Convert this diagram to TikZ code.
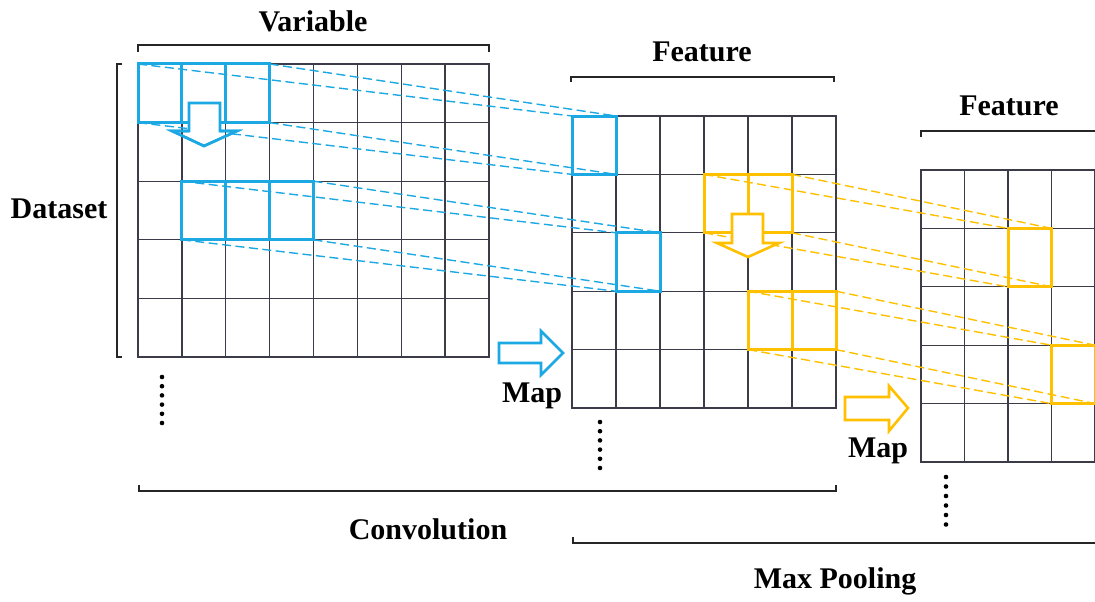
\documentclass[tikz,border=0pt]{standalone}
\usepackage{fontspec}
\setmainfont{Liberation Serif}
\definecolor{cblue}{RGB}{28,168,227}
\definecolor{cyel}{RGB}{255,192,0}
\definecolor{cgrid}{RGB}{60,60,72}
\begin{document}
\begin{tikzpicture}[x=1pt,y=-1pt,
  gridline/.style={cgrid,line width=1.3pt,line cap=rect},
  brk/.style={black!85,line width=1.2pt},
  lbl/.style={font=\fontsize{30}{36}\selectfont\bfseries,inner sep=0pt,anchor=base},
  bbox/.style={cblue,line width=3pt,line cap=rect},
  ybox/.style={cyel,line width=3pt,line cap=rect},
  bdash/.style={cblue,line width=1.4pt,dash pattern=on 9pt off 4.5pt},
  ydash/.style={cyel,line width=1.4pt,dash pattern=on 9pt off 4.5pt},
  barrow/.style={cblue,line width=2.6pt,fill=white,line join=miter},
  yarrow/.style={cyel,line width=2.6pt,fill=white,line join=miter},
  dotmark/.style={fill=black}]
\useasboundingbox (0,0) rectangle (1095,602);
\clip (0,0) rectangle (1095,602);

% grid coordinates
\foreach \i in {0,...,8}{\foreach \j in {0,...,5}{
  \coordinate (A\i-\j) at ({138+\i*43.875},{64+\j*58.6});}}
\foreach \i in {0,...,6}{\foreach \j in {0,...,5}{
  \coordinate (B\i-\j) at ({572+\i*44},{116+\j*58.4});}}
\foreach \i in {0,...,4}{\foreach \j in {0,...,5}{
  \coordinate (C\i-\j) at ({921+\i*43.5},{170+\j*58.4});}}

% grids
\foreach \i in {0,...,8}{\draw[gridline] (A\i-0) -- (A\i-5);}
\foreach \j in {0,...,5}{\draw[gridline] (A0-\j) -- (A8-\j);}
\foreach \i in {0,...,6}{\draw[gridline] (B\i-0) -- (B\i-5);}
\foreach \j in {0,...,5}{\draw[gridline] (B0-\j) -- (B6-\j);}
\foreach \i in {0,...,4}{\draw[gridline] (C\i-0) -- (C\i-5);}
\foreach \j in {0,...,5}{\draw[gridline] (C0-\j) -- (C4-\j);}

% dashed projection lines
\draw[bdash] (A0-0) -- (B0-0);
\draw[bdash] (A3-0) -- (B1-0);
\draw[bdash] (A0-1) -- (B0-1);
\draw[bdash] (A3-1) -- (B1-1);
\draw[bdash] (A1-2) -- (B1-2);
\draw[bdash] (A4-2) -- (B2-2);
\draw[bdash] (A1-3) -- (B1-3);
\draw[bdash] (A4-3) -- (B2-3);
\draw[ydash] (B3-1) -- (C2-1);
\draw[ydash] (B5-1) -- (C3-1);
\draw[ydash] (B3-2) -- (C2-2);
\draw[ydash] (B5-2) -- (C3-2);
\draw[ydash] (B4-3) -- (C3-3);
\draw[ydash] (B6-3) -- (C4-3);
\draw[ydash] (B4-4) -- (C3-4);
\draw[ydash] (B6-4) -- (C4-4);

% highlighted windows
\draw[bbox] (A0-0) rectangle (A1-1);
\draw[bbox] (A1-0) rectangle (A2-1);
\draw[bbox] (A2-0) rectangle (A3-1);
\draw[bbox] (A1-2) rectangle (A2-3);
\draw[bbox] (A2-2) rectangle (A3-3);
\draw[bbox] (A3-2) rectangle (A4-3);
\draw[bbox] (B0-0) rectangle (B1-1);
\draw[bbox] (B1-2) rectangle (B2-3);
\draw[ybox] (B3-1) rectangle (B4-2);
\draw[ybox] (B4-1) rectangle (B5-2);
\draw[ybox] (B4-3) rectangle (B5-4);
\draw[ybox] (B5-3) rectangle (B6-4);
\draw[ybox] (C2-1) rectangle (C3-2);
\draw[ybox] (C3-3) rectangle (C4-4);

% down arrows
\draw[barrow] (189,103) -- (220,103) -- (220,131) -- (237,131) -- (204,146) -- (172,131) -- (189,131) -- cycle;
\begin{scope}
  \clip (172,131) -- (237,131) -- (204,146) -- cycle;
  \foreach \i in {1,2}{\draw[gridline] (A\i-1) -- (A\i-5);}
\end{scope}
\draw[cblue,line width=2.6pt,line join=miter] (220,131) -- (237,131) -- (204,146) -- (172,131) -- (189,131);
\draw[yarrow] (732,214) -- (763,214) -- (763,243) -- (779,243) -- (748,257) -- (717,243) -- (732,243) -- cycle;

% map arrows
\draw[barrow] (499,343) -- (541,343) -- (541,331) -- (563,353) -- (541,375) -- (541,363) -- (499,363) -- cycle;
\draw[yarrow] (845,397) -- (889,397) -- (889,386) -- (908,408) -- (889,431) -- (889,420) -- (845,420) -- cycle;

% brackets
\draw[brk] (138,52) -- (138,45) -- (489,45) -- (489,52);
\draw[brk] (571,82) -- (571,77) -- (834,77) -- (834,82);
\draw[brk] (921,137) -- (921,131) -- (1096,131);
\draw[brk] (122,64) -- (117,64) -- (117,357) -- (122,357);
\draw[brk] (139,485) -- (139,491) -- (836,491) -- (836,485);
\draw[brk] (573,537) -- (573,543) -- (1096,543);

% dots
\foreach \k in {0,...,5}{\fill[dotmark] (162,{377+\k*9.2}) circle (2.3pt);}
\foreach \k in {0,...,5}{\fill[dotmark] (600,{422+\k*9.2}) circle (2.3pt);}
\foreach \k in {0,...,5}{\fill[dotmark] (946,{477+\k*9.5}) circle (2.3pt);}

% labels
\node[lbl] (variable) at (313,32) {Variable};
\node[lbl] (feature1) at (702,62) {Feature};
\node[lbl] (feature2) at (1009,115) {Feature};
\node[lbl] (dataset) at (59,218) {Dataset};
\node[lbl] (map1) at (532,402) {Map};
\node[lbl] (map2) at (878,457) {Map};
\node[lbl] (conv) at (428,539) {Convolution};
\node[lbl] (pool) at (835,588) {Max Pooling};
\end{tikzpicture}
\end{document}
